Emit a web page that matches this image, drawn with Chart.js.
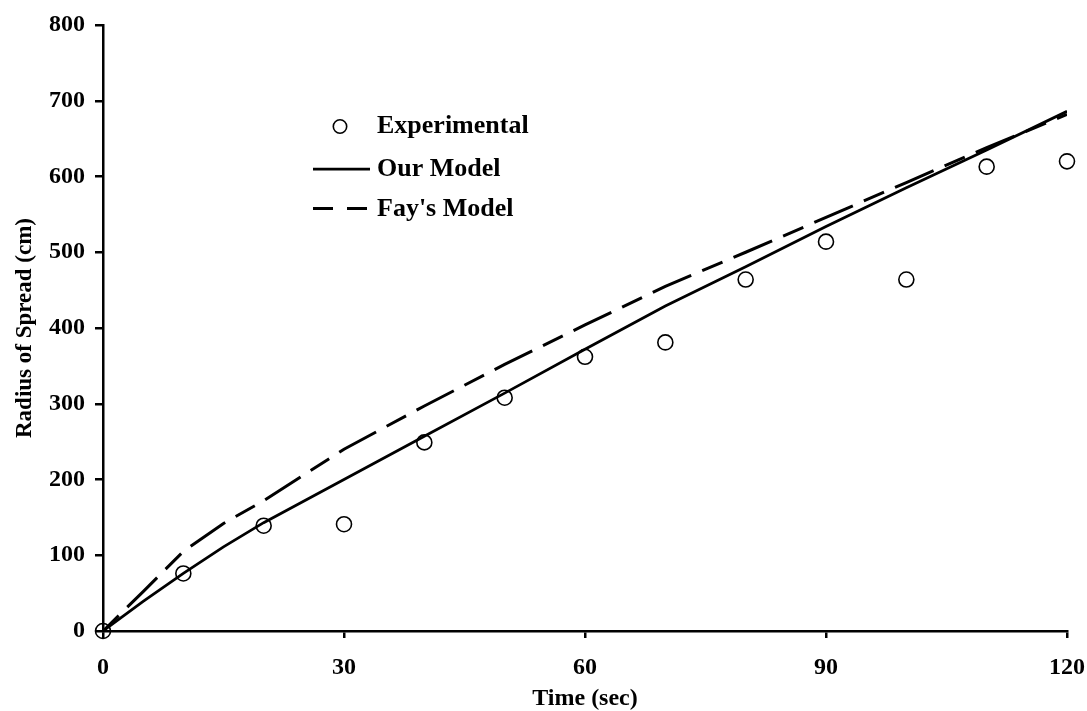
<!DOCTYPE html>
<html><head><meta charset="utf-8">
<script src="https://cdn.jsdelivr.net/npm/chart.js@4.4.0/dist/chart.umd.min.js"></script>
<style>html,body{margin:0;padding:0;background:#fff;}</style>
</head><body>
<canvas id="c" width="1087" height="711"></canvas>
<script>
// ---- data ----
const timeExp = [0, 10, 20, 30, 40, 50, 60, 70, 80, 90, 100, 110, 120];
const radiusExp = [0, 76, 139, 141, 249, 308, 362, 381, 464, 514, 464, 613, 620];
const timeModel = [0, 5, 10, 15, 20, 30, 40, 50, 60, 70, 80, 90, 100, 110, 120];
const ourModel = [0, 39, 76, 111, 143, 200, 257, 314, 372, 429, 481, 534, 585, 635, 686];
const fayModel = [0, 52, 105, 142, 172, 240, 297, 352, 404, 455, 500, 546, 592, 638, 682];
const xTicks = [0, 30, 60, 90, 120];
const yTicks = [0, 100, 200, 300, 400, 500, 600, 700, 800];
const labels = ['Experimental', 'Our Model', "Fay's Model"];
const xTitle = 'Time (sec)';
const yTitle = 'Radius of Spread (cm)';

const FONT = '"Liberation Serif", "Times New Roman", serif';
Chart.defaults.color = '#000';
Chart.defaults.font.family = FONT;

const toXY = (xs, ys) => xs.map((x, i) => ({x: x, y: ys[i]}));

const legendPlugin = {
  id: 'customLegend',
  afterDraw(chart, args, opts) {
    const ctx = chart.ctx;
    const ds = chart.data.datasets;
    ctx.save();
    ctx.font = 'bold 26px ' + FONT;
    ctx.fillStyle = '#000';
    ctx.textBaseline = 'middle';
    ctx.textAlign = 'left';
    opts.items.forEach((it, i) => {
      const d = ds[i];
      ctx.strokeStyle = '#000';
      if (it.kind === 'point') {
        ctx.lineWidth = 1.6;
        ctx.beginPath();
        ctx.arc(it.sx, it.y, 6.7, 0, Math.PI * 2);
        ctx.stroke();
      } else {
        ctx.lineWidth = d.borderWidth;
        ctx.setLineDash(it.dash || []);
        ctx.beginPath();
        ctx.moveTo(it.lx0, it.y);
        ctx.lineTo(it.lx1, it.y);
        ctx.stroke();
        ctx.setLineDash([]);
      }
      ctx.fillText(d.label, opts.textX, it.ty);
    });
    ctx.restore();
  }
};

new Chart(document.getElementById('c'), {
  type: 'line',
  data: {
    datasets: [
      {label: labels[0], data: toXY(timeExp, radiusExp), showLine: false,
       pointRadius: 7.5, pointBorderWidth: 1.6, pointBorderColor: '#000',
       pointBackgroundColor: 'rgba(0,0,0,0)', borderColor: '#000', clip: false},
      {label: labels[1], data: toXY(timeModel, ourModel), borderColor: '#000',
       borderWidth: 2.75, pointRadius: 0, tension: 0, fill: false},
      {label: labels[2], data: toXY(timeModel, fayModel), borderColor: '#000',
       borderWidth: 3, borderDash: [22, 12, 42, 12], pointRadius: 0, tension: 0, fill: false}
    ]
  },
  options: {
    responsive: false,
    animation: false,
    devicePixelRatio: 1,
    layout: {padding: {top: 25, right: 20, bottom: 0, left: 0}},
    plugins: {
      legend: {display: false},
      tooltip: {enabled: false},
      customLegend: {
        textX: 377,
        items: [
          {kind: 'point', sx: 340, y: 126.5, ty: 126.5},
          {kind: 'line', lx0: 313, lx1: 370, y: 169, ty: 169.5},
          {kind: 'line', lx0: 313, lx1: 370, y: 208.5, ty: 209.5, dash: [20, 14]}
        ]
      }
    },
    scales: {
      x: {
        type: 'linear', min: 0, max: 120,
        afterBuildTicks: s => { s.ticks = xTicks.map(v => ({value: v})); },
        afterFit: s => { s.height = 80; s.paddingRight = 0; s.paddingLeft = 0; },
        grid: {display: true, drawOnChartArea: false, drawTicks: true, tickLength: 7,
               color: '#000', lineWidth: 2.5},
        border: {display: true, color: '#000', width: 2.5},
        ticks: {font: {size: 24, weight: 'bold'}, padding: 15, color: '#000', maxRotation: 0},
        title: {display: true, text: xTitle, font: {size: 24, weight: 'bold', lineHeight: 1},
                padding: {top: 0, bottom: 0}, color: '#000'}
      },
      y: {
        type: 'linear', min: 0, max: 800,
        afterBuildTicks: s => { s.ticks = yTicks.map(v => ({value: v})); },
        afterFit: s => { s.width = 103; s.paddingTop = 0; s.paddingBottom = 0; },
        grid: {display: true, drawOnChartArea: false, drawTicks: true, tickLength: 8,
               color: '#000', lineWidth: 2.5},
        border: {display: true, color: '#000', width: 2.5},
        ticks: {font: {size: 24, weight: 'bold'}, padding: 10, color: '#000'},
        title: {display: true, text: yTitle, font: {size: 23, weight: 'bold', lineHeight: 1},
                padding: {top: 14, bottom: 0}, color: '#000'}
      }
    }
  },
  plugins: [legendPlugin]
});
</script>
</body></html>
